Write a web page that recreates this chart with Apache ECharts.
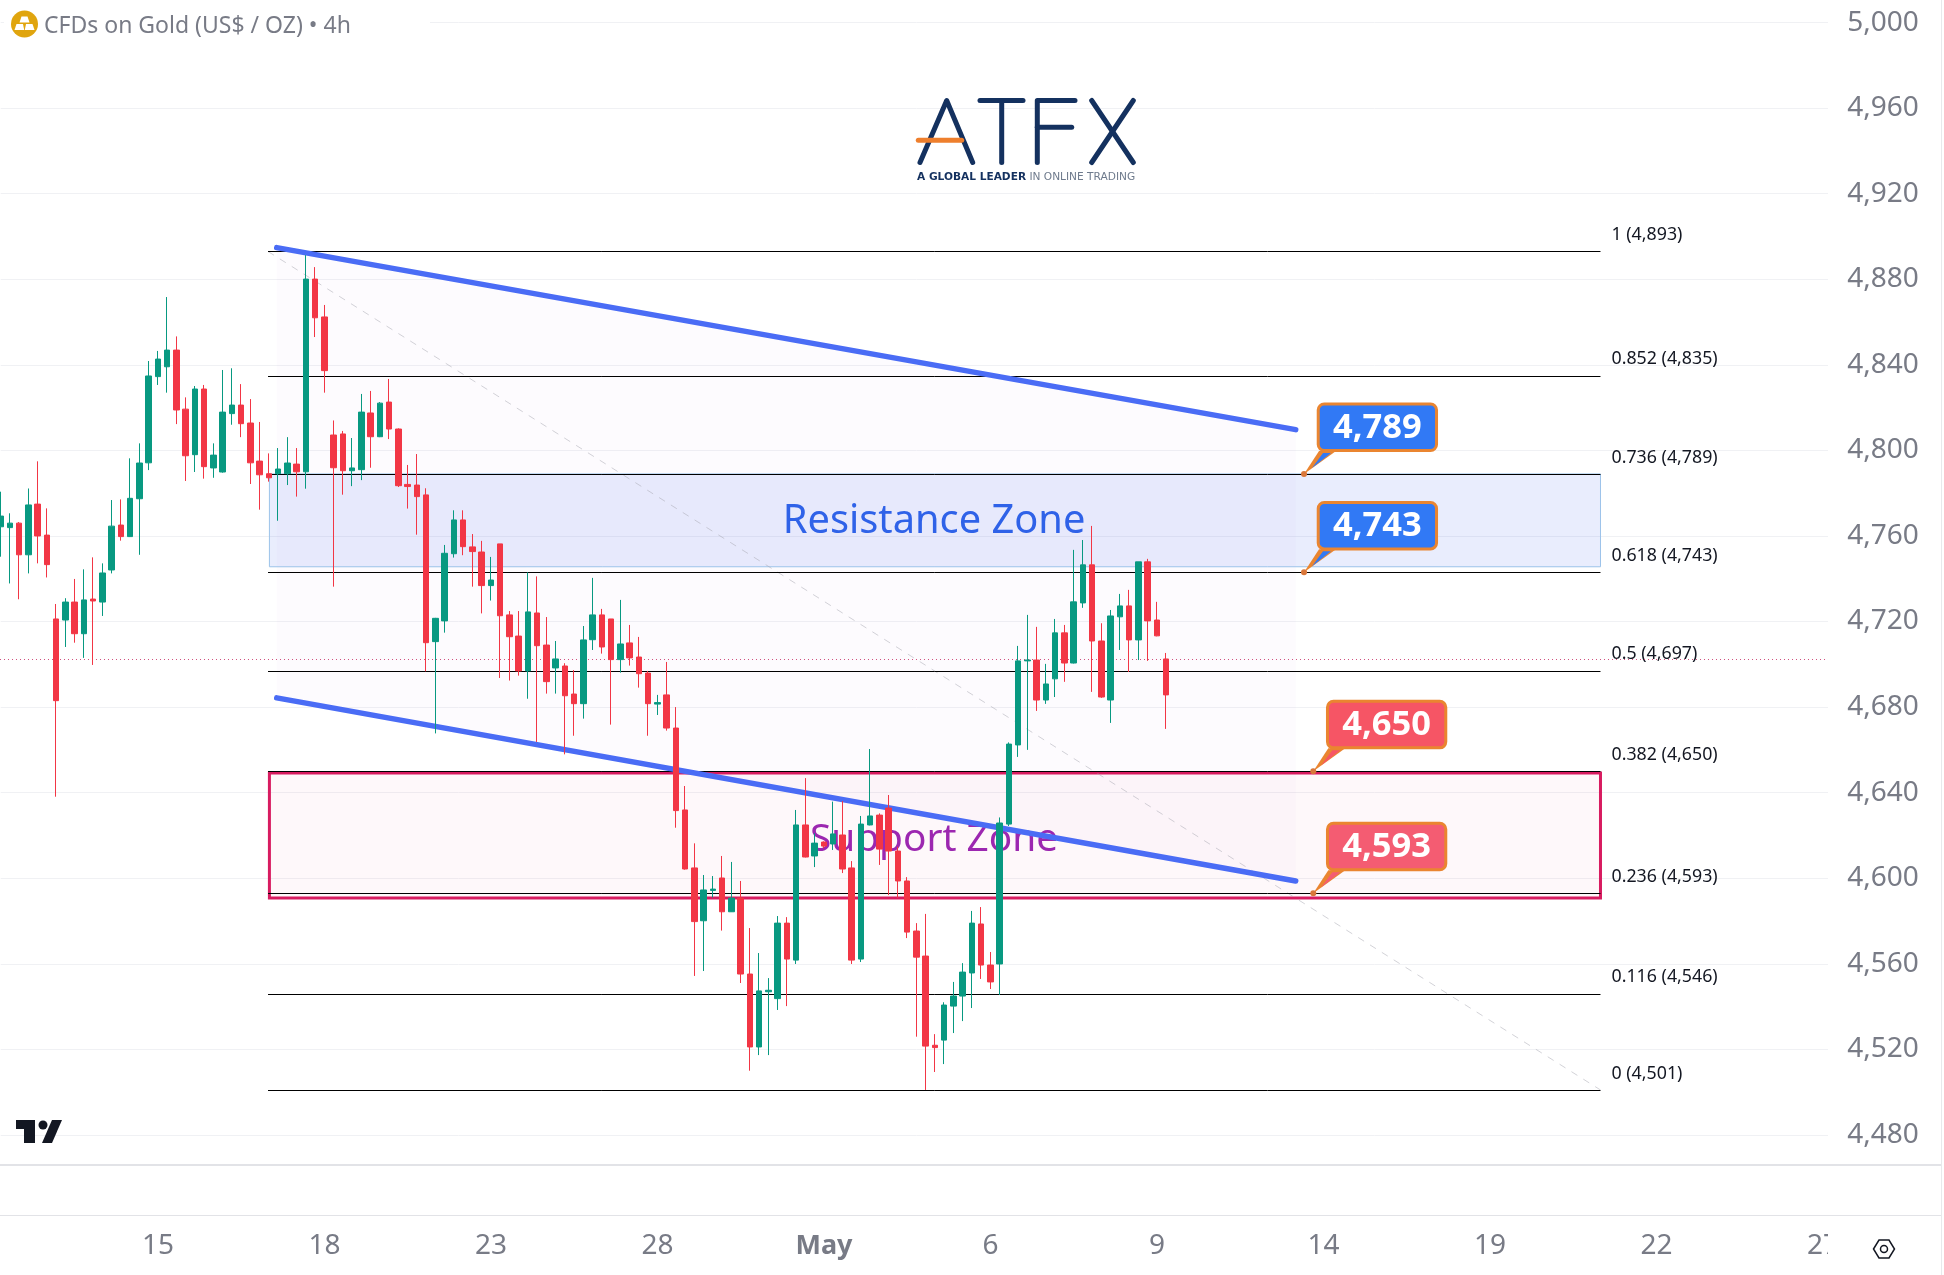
<!DOCTYPE html>
<html>
<head>
<meta charset="utf-8">
<title>CFDs on Gold 4h</title>
<style>html,body{margin:0;padding:0;background:#fff}#chart{width:1944px;height:1275px}</style>
<script src="https://cdn.jsdelivr.net/npm/echarts@6/dist/echarts.min.js"></script>
</head>
<body>
<div id="chart"></div>
<script>
// 4h gold candles, oldest first
const opens = [4764.3,4763.9,4766.0,4751.2,4774.9,4760.4,4721.2,4720.7,4729.1,4714.3,4730.5,4729.1,4744.1,4765.1,4759.7,4777.4,4794.2,4834.5,4839.1,4846.9,4819.3,4798.0,4828.7,4791.8,4789.9,4817.2,4821.2,4812.8,4795.0,4789.1,4789.1,4789.1,4793.6,4790.0,4880.1,4862.4,4807.2,4807.7,4790.5,4791.0,4817.5,4806.4,4822.6,4810.0,4784.1,4783.8,4779.2,4710.6,4720.3,4751.7,4767.5,4754.9,4752.5,4736.8,4756.3,4723.1,4713.2,4696.9,4724.0,4709.0,4698.3,4699.2,4686.1,4681.6,4711.5,4723.1,4721.2,4702.2,4710.0,4703.4,4695.9,4681.4,4685.7,4670.2,4631.9,4604.8,4580.1,4594.3,4600.1,4584.3,4590.7,4555.2,4521.1,4546.9,4543.7,4579.0,4561.7,4624.9,4610.4,4616.9,4616.0,4620.2,4604.8,4562.2,4624.9,4629.5,4632.8,4612.7,4598.7,4575.3,4563.6,4521.9,4524.3,4540.2,4544.9,4555.7,4578.6,4559.4,4559.9,4625.3,4662.3,4701.6,4702.0,4683.3,4693.2,4714.7,4700.6,4728.7,4746.5,4710.9,4683.3,4722.2,4727.3,4711.4,4747.9,4720.7,4702.5];
const closes = [4769.3,4766.0,4751.2,4774.5,4760.0,4746.6,4683.0,4729.1,4714.3,4730.1,4729.6,4742.7,4764.6,4759.7,4777.6,4794.1,4834.8,4842.7,4846.9,4818.9,4797.5,4828.7,4792.4,4797.8,4817.9,4821.2,4812.5,4794.2,4788.6,4787.2,4791.3,4794.1,4790.0,4880.1,4862.0,4837.3,4791.9,4790.5,4791.8,4817.9,4806.4,4822.1,4810.0,4783.5,4783.1,4778.4,4710.1,4721.5,4751.9,4767.5,4755.0,4752.7,4736.8,4739.4,4722.7,4712.9,4696.9,4724.5,4708.7,4691.9,4702.5,4685.3,4681.6,4711.4,4723.1,4708.1,4702.2,4709.5,4703.0,4695.6,4681.6,4682.1,4670.2,4631.6,4604.3,4579.7,4594.5,4594.9,4584.3,4590.7,4555.2,4521.1,4547.3,4547.6,4579.0,4562.2,4624.9,4609.9,4616.4,4615.0,4620.7,4604.3,4561.7,4625.3,4629.1,4613.6,4612.7,4598.7,4574.8,4563.1,4521.5,4520.8,4540.7,4544.9,4556.1,4579.0,4559.4,4551.5,4625.8,4662.7,4701.6,4702.0,4683.3,4690.8,4714.7,4700.6,4729.2,4746.5,4710.9,4684.7,4722.6,4727.3,4711.4,4747.9,4720.3,4713.3,4685.7];
const lows = [4750.3,4737.8,4730.4,4742.5,4747.2,4740.6,4638.1,4708.1,4710.1,4703.0,4699.7,4722.6,4742.5,4757.8,4759.5,4751.2,4790.8,4830.6,4827.0,4812.3,4785.7,4789.9,4786.8,4787.2,4789.6,4812.0,4806.2,4784.3,4772.3,4785.4,4767.1,4783.8,4778.4,4782.1,4853.0,4827.0,4736.3,4779.3,4783.3,4786.1,4791.9,4806.2,4805.3,4782.9,4772.8,4760.6,4696.7,4667.7,4714.8,4749.9,4751.0,4736.3,4723.8,4729.8,4693.6,4692.4,4694.7,4683.9,4663.7,4686.3,4686.3,4657.9,4666.6,4674.6,4706.7,4705.0,4671.8,4696.1,4699.4,4689.1,4666.6,4676.3,4669.0,4623.6,4604.0,4554.3,4556.6,4591.0,4575.5,4584.2,4551.0,4510.0,4517.3,4517.3,4538.4,4540.2,4559.9,4609.7,4605.2,4614.0,4613.2,4602.4,4559.9,4560.8,4624.7,4606.2,4592.1,4590.7,4572.0,4525.9,4501.0,4509.4,4513.1,4527.6,4533.2,4539.3,4552.9,4548.2,4545.4,4624.4,4656.7,4660.0,4678.2,4681.5,4684.7,4691.8,4700.4,4726.4,4687.1,4684.3,4672.6,4706.7,4696.4,4702.0,4701.6,4713.1,4669.8];
const highs = [4780.7,4770.6,4766.5,4782.2,4794.9,4772.9,4728.2,4730.9,4739.9,4744.4,4750.0,4747.2,4776.8,4777.1,4796.3,4803.3,4841.8,4846.5,4871.7,4853.3,4824.8,4830.1,4830.6,4803.3,4837.6,4838.4,4831.0,4824.0,4813.3,4798.6,4801.1,4806.2,4801.1,4891.3,4885.7,4868.0,4814.0,4809.1,4805.8,4826.4,4827.8,4822.6,4833.4,4810.3,4793.2,4798.3,4782.3,4721.7,4755.8,4772.0,4772.0,4760.9,4757.7,4750.2,4756.3,4724.9,4724.9,4743.0,4741.1,4722.1,4710.9,4700.5,4697.3,4717.9,4740.4,4725.9,4721.2,4730.1,4718.4,4712.8,4696.9,4685.7,4701.1,4680.0,4643.1,4616.3,4601.5,4601.0,4610.4,4607.6,4598.7,4576.7,4565.0,4553.3,4582.3,4581.8,4631.9,4646.8,4621.0,4617.2,4635.8,4636.1,4608.0,4629.1,4660.4,4630.3,4638.9,4614.7,4600.5,4579.0,4583.3,4527.1,4542.0,4551.5,4560.3,4584.7,4586.5,4565.5,4628.4,4663.5,4708.6,4723.1,4717.5,4700.2,4721.2,4718.4,4753.5,4758.1,4764.7,4719.2,4725.4,4732.9,4734.8,4747.9,4749.3,4729.2,4705.3];

// date ticks, one every 18 bars
const dateLabels = ['15','18','23','28','May','6','9','14','19','22','27'];
const firstDateBar = 17;
const barsPerLabel = 18;
const barSlots = 199;

// price scale
const priceMin = 4440;
const priceMax = 5010;
const priceStep = 40;
const lastPrice = 4702.5;

// Fibonacci retracement
const fibRatios = ['1','0.852','0.736','0.618','0.5','0.382','0.236','0.116','0'];
const fibPrices = [4893,4835,4789,4743,4697,4650,4593,4546,4501];
const fibStartBar = 28.9;
const fibEndBar = 172.95;

// zones: top and bottom price
const zoneStartBar = 29.05;
const zoneEndBar = 172.95;
const resistanceZone = [4789,4745.6];
const supportZone = [4649.2,4590.8];
const zoneTextBar = 100.9;
const resistanceTextPrice = 4766.7;
const supportTextPrice = 4618;

// falling channel: [bar, price] at both ends
const channelUpper = [[29.84,4894.8],[140,4809.7]];
const channelLower = [[29.84,4684.3],[140,4598.7]];

// price callouts
const calloutBars = [140.9,140.9,141.9,141.9];
const calloutPrices = [4789,4743,4650,4593];
const calloutColors = ['#3179f5','#3179f5','#f65565','#f45c72'];

const UP = '#089981', DOWN = '#f23645';
const FONT = '"Noto Sans", sans-serif';
const GREY = '#787b86';
const NAVY = '#14315f';

const categories = Array.from({length: barSlots}, () => '');
dateLabels.forEach((t, k) => { categories[firstDateBar + k * barsPerLabel] = t; });

const candles = opens.map((o, i) => [o, closes[i], lows[i], highs[i]]);
const crisp = v => Math.round(v) + 0.5;

function overlay(name, z, data, renderItem) {
  return {type: 'custom', name, z, xAxisIndex: 1, yAxisIndex: 0, silent: true, data, renderItem};
}

const channelFill = overlay('channelFill', 1, [[channelUpper[0][0], channelUpper[0][1]]], (p, api) => ({
  type: 'polygon',
  shape: {points: [channelUpper[0], channelUpper[1], channelLower[1], channelLower[0]].map(c => api.coord(c))},
  style: {fill: 'rgba(170,80,200,0.024)'}
}));

function zoneSeries(name, band, fill, stroke, lineWidth) {
  return overlay(name, 2, [[zoneStartBar, band[0]]], (p, api) => {
    const a = api.coord([zoneStartBar, band[0]]);
    const b = api.coord([zoneEndBar, band[1]]);
    return {
      type: 'rect',
      shape: {x: a[0], y: a[1], width: b[0] - a[0], height: b[1] - a[1]},
      style: {fill, stroke, lineWidth}
    };
  });
}

const trendLine = overlay('fibTrend', 3, [[fibStartBar, fibPrices[0]]], (p, api) => {
  const a = api.coord([fibStartBar, fibPrices[0]]);
  const b = api.coord([fibEndBar, fibPrices[fibPrices.length - 1]]);
  return {
    type: 'line',
    shape: {x1: a[0], y1: a[1], x2: b[0], y2: b[1]},
    style: {stroke: 'rgba(165,165,175,0.5)', lineWidth: 1, lineDash: [7, 7]}
  };
});

const fibLevels = overlay('fibLevels', 4, fibPrices.map((v) => [fibStartBar, v]), (p, api) => {
  const v = fibPrices[p.dataIndex];
  const a = api.coord([fibStartBar, v]);
  const b = api.coord([fibEndBar, v]);
  const y = crisp(a[1]);
  const num = v.toLocaleString('en-US');
  return {
    type: 'group',
    children: [
      {type: 'line', shape: {x1: a[0], y1: y, x2: b[0], y2: y}, style: {stroke: '#000', lineWidth: 1}},
      {type: 'text', x: b[0] + 11, y: a[1] - 16.5, style: {
        text: fibRatios[p.dataIndex] + ' (' + num + ')',
        font: '17.8px ' + FONT, fill: '#131722', verticalAlign: 'middle', align: 'left'
      }}
    ]
  };
});

const lastPriceLine = overlay('lastPrice', 5, [[0, lastPrice]], (p, api) => {
  const a = api.coord([0, lastPrice]);
  const b = api.coord([197.5, lastPrice]);
  const y = crisp(a[1]);
  return {
    type: 'line',
    shape: {x1: 0, y1: y, x2: b[0], y2: y},
    style: {stroke: 'rgba(200,50,105,0.85)', lineWidth: 1, lineDash: [1, 3]}
  };
});

function zoneText(name, text, price, color, size) {
  return overlay(name, 6, [[zoneTextBar, price]], (p, api) => {
    const c = api.coord([zoneTextBar, price]);
    return {
      type: 'text', x: c[0], y: c[1],
      style: {text, font: size + 'px ' + FONT, fill: color, align: 'center', verticalAlign: 'middle'}
    };
  });
}

function channelLine(name, pts) {
  return {
    type: 'line', name, z: 7, xAxisIndex: 1, yAxisIndex: 0, data: pts, silent: true,
    showSymbol: false, symbol: 'none',
    lineStyle: {color: '#4a6cf5', width: 5.5, cap: 'round'}
  };
}

const callouts = overlay('callouts', 12, calloutPrices.map((v, i) => [calloutBars[i], v]), (p, api) => {
  const i = p.dataIndex;
  const c = api.coord([calloutBars[i], calloutPrices[i]]);
  const ax = c[0], ay = c[1];
  const fill = calloutColors[i];
  const edge = '#ea8530';
  const bx = ax + 12.7, by = ay - 71.4, bw = 121.3, bh = 49.5;
  return {
    type: 'group',
    children: [
      {type: 'polygon', shape: {points: [[ax, ay], [ax + 15, ay - 23], [ax + 32, ay - 23]]}, style: {fill: edge}},
      {type: 'rect', shape: {x: bx + 1.5, y: by + 1.5, width: bw - 3, height: bh - 3, r: 6},
        style: {fill, stroke: edge, lineWidth: 3}},
      {type: 'polygon', shape: {points: [[ax + 8, ay - 6], [ax + 19, ay - 21], [ax + 27, ay - 21]]}, style: {fill}},
      {type: 'circle', shape: {cx: ax, cy: ay, r: 3}, style: {fill: '#d9773a'}},
      {type: 'text', x: bx + bw / 2, y: by + bh / 2 + 0.5, style: {
        text: calloutPrices[i].toLocaleString('en-US'),
        font: 'bold 34.5px ' + FONT, fill: '#fff', align: 'center', verticalAlign: 'middle'
      }}
    ]
  };
});

function stroke(points, color) {
  return {
    type: 'polyline', z: 20, silent: true, shape: {points},
    style: {stroke: color, lineWidth: 5, lineCap: 'round', lineJoin: 'round', fill: null}
  };
}
function solid(points, fill, z) {
  return {type: 'polygon', z: z || 20, silent: true, shape: {points}, style: {fill}};
}

const chrome = [
  // blanks the top gridline behind the symbol title
  {type: 'rect', z: 1, silent: true, shape: {x: 4, y: 0, width: 426, height: 46}, style: {fill: '#fff'}},
  // trims gridlines and date labels at the edge of the price scale
  {type: 'rect', z: 1, silent: true, shape: {x: 1828, y: 0, width: 6, height: 1216}, style: {fill: '#fff'}},
  {type: 'rect', z: 1, silent: true, shape: {x: 1828, y: 1216, width: 116, height: 59}, style: {fill: '#fff'}},
  {type: 'rect', z: 1, silent: true, shape: {x: 0, y: 1164, width: 1941, height: 2}, style: {fill: '#e2e3e7'}},
  {type: 'rect', z: 1, silent: true, shape: {x: 0, y: 1215, width: 1941, height: 1}, style: {fill: '#e2e3e7'}},
  {type: 'rect', z: 1, silent: true, shape: {x: 1941, y: 0, width: 1, height: 1275}, style: {fill: '#e8e9ec'}},

  // gold symbol badge and title
  {type: 'circle', z: 20, silent: true, shape: {cx: 24.5, cy: 24, r: 13.5}, style: {fill: '#e0a50e'}},
  solid([[21.5, 16.5], [27.5, 16.5], [29.5, 22.5], [19.5, 22.5]], '#fff'),
  solid([[16.5, 24], [23, 24], [24.2, 30], [14.5, 30]], '#fff'),
  solid([[26, 24], [32.5, 24], [34.5, 30], [24.8, 30]], '#fff'),
  {type: 'text', z: 20, silent: true, x: 44, y: 26, style: {
    text: 'CFDs on Gold (US$ / OZ) • 4h', font: '23px ' + FONT, fill: GREY, verticalAlign: 'middle'
  }},

  // ATFX wordmark
  stroke([[920, 162.5], [946.7, 100.5], [972.7, 162.5]], NAVY),
  stroke([[980, 100.5], [1023, 100.5]], NAVY),
  stroke([[1001.7, 100.5], [1001.7, 162.5]], NAVY),
  stroke([[1075, 100.5], [1037.3, 100.5], [1037.3, 162.5]], NAVY),
  stroke([[1037.3, 127.3], [1071.7, 127.3]], NAVY),
  stroke([[1091.7, 100.5], [1133.3, 162.5]], NAVY),
  stroke([[1133.3, 100.5], [1091.7, 162.5]], NAVY),
  stroke([[918.3, 140.3], [961.7, 140.3]], '#ee7f2d'),
  {type: 'text', z: 20, silent: true, x: 917, y: 177, style: {
    text: '{a|A GLOBAL LEADER} {b|IN ONLINE TRADING}', verticalAlign: 'middle',
    rich: {
      a: {font: 'bold 10.6px "DejaVu Sans"', fill: NAVY},
      b: {font: '10.6px "DejaVu Sans"', fill: '#6e7a8c'}
    }
  }},

  // TradingView mark
  solid([[16, 1120], [35, 1120], [35, 1143], [24, 1143], [24, 1129], [16, 1129]], '#131722'),
  {type: 'circle', z: 20, silent: true, shape: {cx: 43, cy: 1125, r: 4.5}, style: {fill: '#131722'}},
  solid([[52, 1120], [62, 1120], [52, 1143], [42, 1143]], '#131722'),

  // chart settings icon
  {type: 'polygon', z: 20, silent: true,
    shape: {points: [[1873.5, 1249], [1879, 1240], [1889, 1240], [1894.5, 1249], [1889, 1258], [1879, 1258]]},
    style: {fill: null, stroke: '#131722', lineWidth: 1.5}},
  {type: 'circle', z: 20, silent: true, shape: {cx: 1884, cy: 1249, r: 3.5},
    style: {fill: null, stroke: '#131722', lineWidth: 1.5}}
];

const chart = echarts.init(document.getElementById('chart'), null, {renderer: 'canvas'});
chart.setOption({
  animation: false,
  backgroundColor: '#fff',
  grid: {left: 0.7, top: 1.23, width: 1831.5, height: 1219.2, containLabel: false},
  xAxis: [
    {
      type: 'category', data: categories, boundaryGap: false, z: 0,
      axisLine: {show: false}, axisTick: {show: false}, splitLine: {show: false},
      axisLabel: {
        interval: (i, v) => v !== '', margin: 12, fontSize: 28, color: GREY, fontFamily: 'Noto Sans',
        formatter: v => v === 'May' ? '{m|May}' : v,
        rich: {m: {fontSize: 27, color: GREY, fontWeight: 'bold', fontFamily: 'Noto Sans'}}
      }
    },
    {type: 'value', min: 0, max: barSlots - 1, show: false, splitLine: {show: false}}
  ],
  yAxis: {
    type: 'value', position: 'right', min: priceMin, max: priceMax, interval: priceStep, z: 0,
    axisLine: {show: false}, axisTick: {show: false},
    splitLine: {show: true, showMinLine: false, showMaxLine: false, lineStyle: {color: '#f0f1f4', width: 1}},
    axisLabel: {
      margin: 15, fontSize: 28, color: GREY, fontFamily: 'Noto Sans', showMinLabel: false, showMaxLabel: false,
      padding: [0, 0, 2, 0],
      formatter: v => v.toLocaleString('en-US')
    }
  },
  graphic: {elements: chrome},
  series: [
    channelFill,
    zoneSeries('resistanceZone', resistanceZone, 'rgba(60,100,235,0.115)', '#9cc3ea', 1),
    zoneSeries('supportZone', supportZone, 'rgba(233,30,99,0.03)', '#d81b60', 3),
    trendLine,
    fibLevels,
    lastPriceLine,
    zoneText('resistanceLabel', 'Resistance Zone', resistanceTextPrice, '#2f62e8', 39.8),
    zoneText('supportLabel', 'Support Zone', supportTextPrice, '#9c27b0', 38.8),
    channelLine('channelUpper', channelUpper),
    channelLine('channelLower', channelLower),
    {
      type: 'candlestick', name: 'XAUUSD 4h', z: 10, xAxisIndex: 0, yAxisIndex: 0,
      data: candles, barWidth: 6, silent: true, clip: false,
      itemStyle: {color: UP, color0: DOWN, borderColor: UP, borderColor0: DOWN, borderWidth: 1}
    },
    callouts
  ]
});
</script>
</body>
</html>
